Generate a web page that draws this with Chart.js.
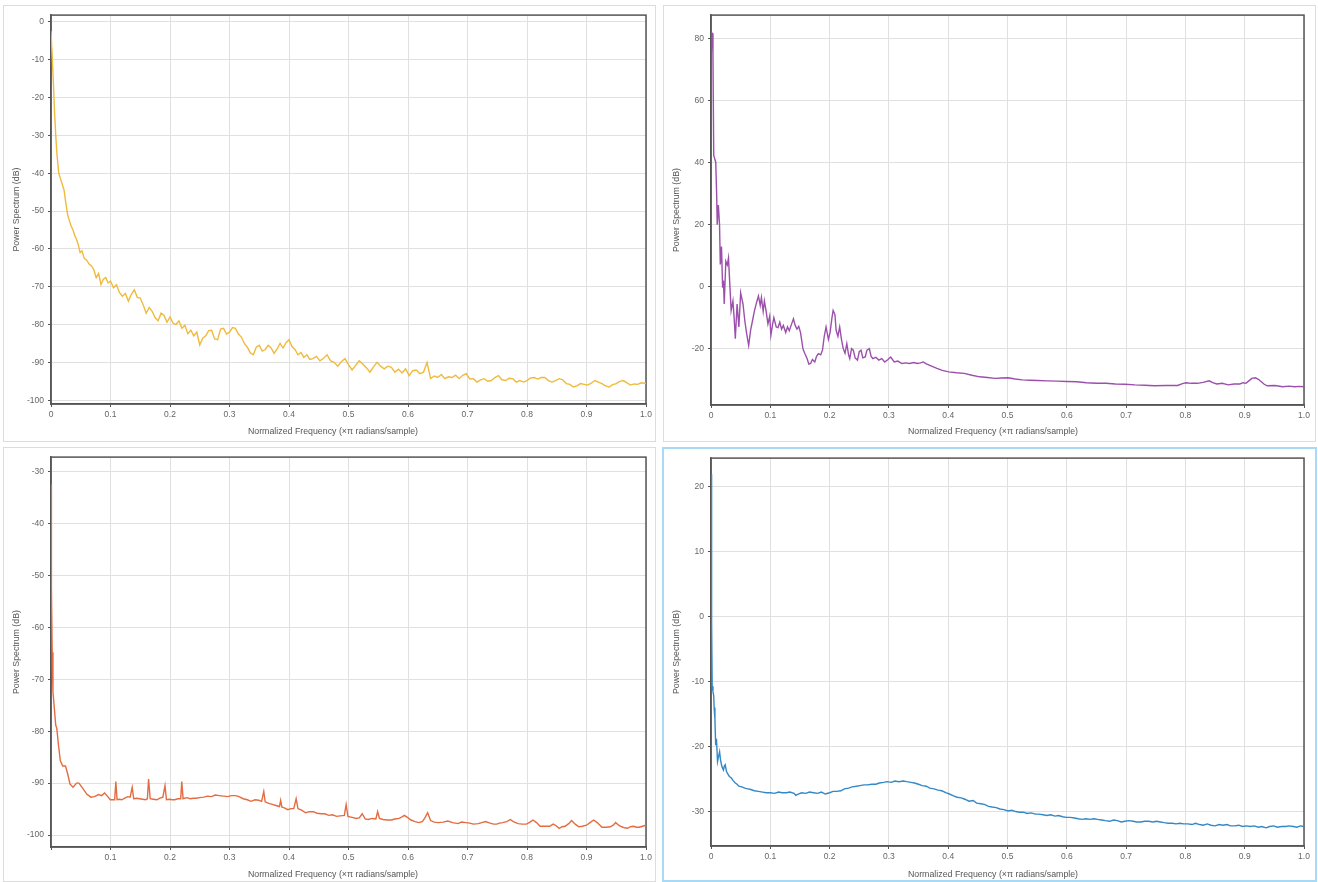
<!DOCTYPE html>
<html>
<head>
<meta charset="utf-8">
<script src="https://cdn.jsdelivr.net/npm/chart.js@4.4.0/dist/chart.umd.min.js"></script>
<style>
body{margin:0;background:#fff;width:1318px;height:882px;overflow:hidden;position:relative}
.panel{position:absolute;border:1px solid #dcdcdc;box-sizing:border-box;background:#fff}
.panel canvas{display:block}
#p4{border:2px solid #a9daf5}
</style>
</head>
<body>
<div class="panel" id="p1" style="left:3px;top:5px;width:653px;height:437px"><canvas id="c1" width="651" height="435"></canvas></div>
<div class="panel" id="p2" style="left:663px;top:5px;width:653px;height:437px"><canvas id="c2" width="651" height="435"></canvas></div>
<div class="panel" id="p3" style="left:3px;top:447px;width:653px;height:435px"><canvas id="c3" width="651" height="433"></canvas></div>
<div class="panel" id="p4" style="left:662px;top:447px;width:655px;height:435px"><canvas id="c4" width="651" height="431"></canvas></div>
<script>
// values (normalized frequency, dB)
let yellowFreq=[
0,0.002,0.004,0.006,0.008,0.010,0.013,0.016,0.019,0.022,
0.025,0.028,0.031,0.034,0.037,0.040,0.043,0.046,0.049,0.052,
0.056,0.060,0.064,0.068,0.072,0.076,0.080,0.084,0.088,0.092,
0.096,0.100,0.105,0.110,0.115,0.120,0.125,0.130,0.135,0.140,
0.145,0.150,0.155,0.160,0.165,0.170,0.175,0.180,0.185,0.190,
0.195,0.200,0.205,0.210,0.215,0.220,0.225,0.230,0.235,0.240,
0.245,0.250,0.255,0.260,0.265,0.270,0.275,0.280,0.285,0.290,
0.295,0.300,0.305,0.310,0.315,0.320,0.325,0.330,0.335,0.340,
0.345,0.350,0.355,0.360,0.365,0.370,0.375,0.380,0.385,0.390,
0.395,0.400,0.405,0.410,0.415,0.420,0.425,0.430,0.435,0.440,
0.446,0.452,0.458,0.464,0.470,0.476,0.482,0.488,0.494,0.500,
0.506,0.512,0.518,0.524,0.530,0.536,0.542,0.548,0.554,0.560,
0.566,0.572,0.578,0.584,0.590,0.596,0.602,0.608,0.614,0.620,
0.626,0.632,0.638,0.644,0.650,0.656,0.662,0.668,0.674,0.680,
0.686,0.692,0.698,0.704,0.710,0.716,0.722,0.728,0.734,0.740,
0.746,0.752,0.758,0.764,0.770,0.776,0.782,0.788,0.794,0.800,
0.806,0.812,0.818,0.824,0.830,0.836,0.842,0.848,0.854,0.860,
0.866,0.872,0.878,0.884,0.890,0.896,0.902,0.908,0.914,0.920,
0.926,0.932,0.938,0.944,0.950,0.956,0.962,0.968,0.974,0.980,
0.986,0.992,1.000]
let yellowDb=[
-2.5,-9,-16,-24,-30,-35,-40,-41.5,-43,-44.5,
-48,-51,-52.6,-54,-55,-56.5,-57.5,-59,-61,-60.5,
-62.5,-63,-64,-64.5,-65.5,-67.6,-66.5,-69.4,-68,-67.6,
-69,-68.5,-70.3,-69.5,-71.5,-72.5,-71.8,-73.8,-72,-70.8,
-72.8,-73,-74.8,-77,-75.5,-76.5,-78.2,-79,-77,-77.6,
-79.4,-78,-79.6,-80,-79,-81,-80.2,-82.4,-81.5,-83,
-82,-85.4,-83.6,-83,-81.6,-81.5,-83.8,-84,-81.2,-81,
-82.5,-82,-80.8,-81,-82.5,-83.3,-85,-86,-87.5,-88,
-86,-85.5,-87,-86.6,-85.5,-86.2,-87.6,-86.4,-85,-86.2,
-84.8,-84,-85.8,-86.6,-88,-87.4,-88.7,-88,-89.2,-89,
-88.4,-89.6,-88.9,-88,-89.6,-90,-91,-89.8,-89,-90.6,
-92,-90.8,-89.6,-90.4,-91.4,-92.6,-91.2,-90,-91,-91.7,
-91,-91.3,-92.6,-91.8,-92.8,-91.7,-93.5,-92.2,-92,-93,
-92.6,-90,-94.3,-93.6,-94,-93.2,-94.3,-93.8,-94,-93.4,
-94.3,-93.4,-93,-94.4,-94.3,-95.2,-94.6,-94.3,-95,-94.8,
-94,-93.5,-94.6,-94.8,-94.2,-94.3,-95.2,-94.8,-95.2,-94.8,
-94.1,-94,-94.4,-94,-94,-94.8,-95.2,-94.8,-94.3,-94.6,
-95.6,-95.8,-96.5,-96.2,-95.6,-95.8,-96,-95.5,-94.8,-95.2,
-95.6,-96.2,-96.5,-95.9,-95.6,-95,-94.8,-95.4,-96,-95.7,
-95.8,-95.4,-95.6]

let purpleFreq=[
0,0.002,0.0033,0.0046,0.006,0.008,0.0095,0.0105,0.0124,0.0144,
0.0157,0.0177,0.0196,0.021,0.0223,0.025,0.0275,0.0295,0.032,0.034,
0.037,0.039,0.041,0.044,0.047,0.050,0.054,0.057,0.060,0.0635,
0.0668,0.070,0.0733,0.077,0.080,0.083,0.085,0.088,0.090,0.093,
0.096,0.099,0.101,0.104,0.106,0.110,0.113,0.116,0.119,0.122,
0.126,0.129,0.132,0.136,0.139,0.142,0.145,0.148,0.151,0.155,
0.158,0.162,0.165,0.168,0.171,0.175,0.178,0.181,0.185,0.188,
0.191,0.194,0.198,0.201,0.204,0.206,0.209,0.211,0.214,0.217,
0.220,0.223,0.226,0.229,0.232,0.234,0.237,0.240,0.243,0.247,
0.250,0.253,0.256,0.260,0.263,0.267,0.270,0.273,0.278,0.283,
0.288,0.293,0.298,0.303,0.309,0.315,0.322,0.328,0.335,0.342,
0.348,0.353,0.358,0.363,0.368,0.375,0.381,0.390,0.401,0.414,
0.427,0.440,0.453,0.466,0.479,0.490,0.501,0.513,0.525,0.538,
0.551,0.567,0.584,0.600,0.617,0.633,0.650,0.666,0.682,0.698,
0.715,0.731,0.748,0.767,0.787,0.795,0.801,0.810,0.820,0.830,
0.840,0.846,0.853,0.862,0.872,0.882,0.892,0.897,0.902,0.907,
0.912,0.918,0.923,0.928,0.933,0.938,0.951,0.964,0.975,0.984,
0.992,1.0]
let purpleDb=[
82.3,81.8,75.4,42.4,41.5,40.2,30,20,26.4,20,
7.2,13,-0.3,2,-5.6,8.2,7,9.3,-0.3,-7.7,
-4.6,-10,-16.8,-5.6,-13,-2,-5.6,-11,-15,-19,
-14,-11,-7.7,-5,-3,-6,-3.5,-8,-4.6,-8,
-12,-9.5,-15.7,-12,-10,-13,-13.2,-11.5,-13.7,-12.5,
-14.8,-13,-14.2,-12,-10.4,-12.5,-13.7,-12.8,-14.8,-20,
-21.5,-23.2,-25,-24.8,-23.5,-24.3,-22.5,-21.6,-22,-20.5,
-16,-13,-17,-14.6,-10,-7.7,-9,-14.1,-16,-13,
-17,-20,-21.5,-18.4,-22,-23.2,-20,-20.5,-23,-23.7,
-21,-20.5,-23,-22.7,-20.5,-20,-22.5,-23.2,-22.8,-23.7,
-23.2,-24.3,-23.6,-22.7,-24.3,-24,-24.8,-24.6,-24.8,-24.5,
-24.8,-24.6,-24.3,-24.9,-25.3,-25.9,-26.4,-27,-27.5,-27.8,
-28,-28.6,-29.1,-29.3,-29.6,-29.5,-29.4,-29.8,-30.1,-30.2,
-30.3,-30.4,-30.5,-30.6,-30.7,-31,-31.2,-31.2,-31.4,-31.5,
-31.7,-31.8,-32,-31.9,-31.9,-31.3,-31,-31.2,-31.2,-30.9,
-30.4,-31,-31.4,-31.2,-31.7,-31.4,-31.4,-31,-31.2,-30.4,
-29.6,-29.4,-29.9,-30.7,-31.5,-32,-31.9,-32.3,-32.1,-32.3,
-32.2,-32.3]

let orangeFreq=[
0,0.0007,0.002,0.0033,0.0052,0.0079,0.0098,0.0125,0.0157,0.0197,
0.0243,0.0276,0.032,0.037,0.043,0.047,0.054,0.060,0.067,0.073,
0.080,0.085,0.090,0.094,0.0997,0.104,0.107,0.109,0.111,0.115,
0.119,0.124,0.129,0.133,0.1365,0.139,0.144,0.149,0.154,0.159,
0.162,0.164,0.1667,0.172,0.178,0.183,0.188,0.1916,0.194,0.199,
0.204,0.208,0.213,0.218,0.2198,0.222,0.228,0.234,0.239,0.244,
0.250,0.257,0.263,0.270,0.276,0.283,0.290,0.297,0.303,0.310,
0.316,0.323,0.330,0.336,0.343,0.349,0.354,0.3576,0.360,0.366,
0.372,0.378,0.384,0.386,0.388,0.393,0.398,0.403,0.408,0.412,
0.415,0.421,0.428,0.434,0.441,0.447,0.454,0.460,0.467,0.473,
0.480,0.486,0.493,0.496,0.499,0.506,0.513,0.518,0.523,0.528,
0.533,0.540,0.546,0.549,0.552,0.558,0.565,0.572,0.578,0.585,
0.590,0.594,0.599,0.605,0.612,0.618,0.624,0.628,0.633,0.638,
0.644,0.651,0.659,0.667,0.675,0.684,0.690,0.697,0.704,0.710,
0.718,0.724,0.730,0.738,0.744,0.749,0.754,0.759,0.766,0.772,
0.777,0.785,0.792,0.799,0.805,0.810,0.816,0.822,0.830,0.838,
0.844,0.849,0.854,0.859,0.864,0.870,0.875,0.881,0.887,0.893,
0.900,0.906,0.912,0.918,0.926,0.933,0.940,0.945,0.949,0.954,
0.959,0.964,0.969,0.974,0.979,0.984,0.989,0.994,1.0]
let orangeDb=[
-32.5,-52.2,-64.8,-72.4,-75,-78.8,-79.5,-82.6,-85.7,-86.7,
-86.7,-88,-90.2,-90.8,-90,-90,-91.1,-92.1,-92.7,-92.6,
-92.2,-92.4,-91.9,-92.4,-93.2,-93.2,-93.2,-89.7,-93.2,-93.1,
-93.2,-92.9,-92.6,-92.7,-90.8,-93,-92.9,-93,-93.1,-93.2,
-93,-89.2,-93,-93.1,-93.2,-92.9,-92.7,-90.5,-93.2,-93.1,
-93.2,-93.2,-93,-93,-89.7,-93,-92.8,-93,-92.9,-92.9,
-92.8,-92.7,-92.5,-92.6,-92.3,-92.4,-92.5,-92.6,-92.4,-92.4,
-92.6,-93,-93.2,-93.5,-93.2,-93.3,-93.5,-91.6,-93.6,-93.9,
-94.1,-94.3,-94.5,-93.3,-94.6,-94.8,-95.1,-94.9,-94.9,-93,
-94.9,-95.2,-95.7,-95.5,-95.5,-95.8,-95.9,-95.9,-96.2,-96.1,
-96.4,-96.3,-96.2,-94.1,-96.4,-96.6,-96.8,-96.7,-95.9,-96.9,
-97,-96.8,-96.9,-95.5,-96.8,-97,-97.1,-97.1,-96.9,-96.8,
-96.5,-96.2,-96.6,-97.1,-97.4,-97.6,-97.4,-96.8,-95.7,-97.2,
-97.5,-97.6,-97.5,-97.3,-97.6,-97.8,-97.5,-97.6,-97.7,-97.9,
-97.8,-97.6,-97.4,-97.7,-97.9,-97.9,-97.7,-97.6,-97.4,-97,
-97.4,-97.8,-97.9,-97.9,-97.5,-97.1,-97.6,-98.3,-98.3,-98.3,
-97.9,-98.2,-98.7,-98.4,-98.3,-97.8,-97.2,-97.9,-98.4,-98.3,
-98.1,-97.6,-97.1,-97.6,-98.5,-98.5,-98.4,-98.1,-97.6,-98.1,
-98.4,-98.6,-98.7,-98.4,-98.3,-98.5,-98.5,-98.3,-98.1]

let blueFreq=[
0,0.0007,0.0013,0.002,0.0033,0.0046,0.0053,0.0066,0.0079,0.0092,
0.011,0.0128,0.0145,0.016,0.0177,0.019,0.021,0.0225,0.024,0.026,
0.0276,0.029,0.031,0.034,0.037,0.041,0.044,0.047,0.052,0.057,
0.062,0.067,0.073,0.080,0.087,0.093,0.100,0.107,0.114,0.120,
0.127,0.133,0.140,0.143,0.147,0.153,0.160,0.166,0.173,0.180,
0.186,0.193,0.200,0.206,0.212,0.219,0.225,0.232,0.238,0.245,
0.251,0.258,0.264,0.271,0.278,0.284,0.291,0.297,0.304,0.310,
0.317,0.324,0.330,0.337,0.343,0.350,0.356,0.363,0.369,0.376,
0.383,0.389,0.396,0.402,0.409,0.415,0.422,0.428,0.435,0.442,
0.448,0.455,0.461,0.468,0.474,0.481,0.487,0.494,0.501,0.507,
0.514,0.520,0.527,0.533,0.540,0.547,0.553,0.560,0.566,0.573,
0.580,0.586,0.593,0.599,0.606,0.613,0.619,0.626,0.632,0.639,
0.646,0.652,0.659,0.665,0.672,0.679,0.685,0.692,0.698,0.705,
0.712,0.718,0.725,0.731,0.738,0.745,0.751,0.758,0.764,0.771,
0.778,0.784,0.791,0.797,0.804,0.811,0.817,0.824,0.830,0.837,
0.843,0.850,0.857,0.863,0.870,0.876,0.883,0.890,0.896,0.903,
0.909,0.916,0.923,0.929,0.936,0.942,0.949,0.955,0.962,0.969,
0.975,0.982,0.988,0.994,1.0]
let blueDb=[
21.9,10,-0.6,-10.7,-11.5,-12.2,-14,-15.7,-19.8,-18.8,
-22.3,-21.5,-20.8,-22,-22.8,-23.2,-23.6,-23,-22.8,-23.8,
-24.1,-24.3,-24.6,-24.8,-25.2,-25.6,-25.8,-26.1,-26.2,-26.4,
-26.5,-26.6,-26.8,-26.9,-27,-27.1,-27.1,-27.2,-27,-27.1,
-27.1,-27,-27.2,-27.5,-27.3,-27.1,-27.2,-27,-27.1,-27.2,
-27,-27.3,-27.1,-26.9,-26.9,-26.8,-26.5,-26.4,-26.2,-26.1,
-26,-25.9,-25.9,-25.8,-25.8,-25.6,-25.5,-25.4,-25.5,-25.3,
-25.4,-25.3,-25.4,-25.5,-25.6,-25.8,-26,-26.1,-26.4,-26.5,
-26.7,-26.8,-27.1,-27.3,-27.6,-27.8,-27.9,-28.1,-28.4,-28.3,
-28.7,-28.8,-28.9,-29.2,-29.3,-29.4,-29.6,-29.7,-29.9,-29.8,
-30,-30.1,-30.1,-30.3,-30.2,-30.4,-30.4,-30.5,-30.6,-30.5,
-30.7,-30.6,-30.8,-30.9,-30.9,-31,-31.1,-31.2,-31.1,-31.2,
-31.1,-31.2,-31.3,-31.4,-31.5,-31.3,-31.4,-31.6,-31.5,-31.4,
-31.5,-31.6,-31.6,-31.5,-31.5,-31.6,-31.5,-31.6,-31.7,-31.8,
-31.8,-31.9,-31.8,-31.9,-31.9,-32,-31.8,-32,-32.1,-31.9,
-32.1,-32.2,-32,-32.1,-32,-32.2,-32.2,-32.1,-32.3,-32.2,
-32.3,-32.2,-32.4,-32.3,-32.5,-32.3,-32.2,-32.4,-32.3,-32.3,
-32.2,-32.3,-32.4,-32.2,-32.3]

let xTitle='Normalized Frequency (\u00d7\u03c0 radians/sample)'
let yTitle='Power Spectrum (dB)'

let fontFam='"Liberation Sans", Arial, sans-serif'

// plot frame under the line, and the x title centred on the whole panel
let framePlugin={
    id:'frame',
    beforeDatasetsDraw(chart){
        let a=chart.chartArea
        let ctx=chart.ctx
        ctx.save()
        ctx.strokeStyle='#555'
        ctx.lineWidth=1.5
        ctx.strokeRect(a.left,a.top,a.right-a.left,a.bottom-a.top)
        ctx.restore()
    },
    afterDraw(chart,args,opts){
        let ctx=chart.ctx
        ctx.save()
        ctx.fillStyle='#555'
        ctx.font='8.8px '+fontFam
        ctx.textAlign='center'
        ctx.textBaseline='middle'
        ctx.fillText(xTitle,chart.width/2+3.5,opts.ty)
        ctx.restore()
    }
}

function makeChart(id,freq,db,color,yMin,yMax,yStep,geo,hideZero){
    let pts=freq.map((f,i)=>({x:f,y:db[i]}))
    new Chart(document.getElementById(id).getContext('2d'),{
        type:'line',
        data:{datasets:[{data:pts,borderColor:color,borderWidth:1.4,pointRadius:0,tension:0,fill:false}]},
        options:{
            responsive:false,
            animation:false,
            events:[],
            layout:{padding:{top:geo.top,right:geo.right,left:0,bottom:0}},
            plugins:{legend:{display:false},tooltip:{enabled:false},frame:{ty:geo.ty}},
            scales:{
                x:{
                    type:'linear',min:0,max:1,
                    afterFit:s=>{s.height=geo.xh},
                    border:{display:true,color:'#555',width:1.5},
                    grid:{color:'#e0e0e0',lineWidth:1,tickLength:3,tickColor:'#555'},
                    ticks:{stepSize:0.1,padding:3,color:'#666',font:{family:fontFam,size:8.5},maxRotation:0,
                        callback:v=>{
                            if(Math.abs(v)<1e-9) return hideZero?'':'0'
                            return v.toFixed(1)
                        }}
                },
                y:{
                    min:yMin,max:yMax,
                    afterFit:s=>{s.width=47},
                    border:{display:true,color:'#555',width:1.5},
                    grid:{color:'#e0e0e0',lineWidth:1,tickLength:3,tickColor:'#555'},
                    ticks:{stepSize:yStep,includeBounds:false,padding:4,color:'#666',font:{family:fontFam,size:8.5}},
                    title:{display:true,text:yTitle,color:'#555',font:{family:fontFam,size:8.8},padding:{top:7.5,bottom:0}}
                }
            }
        },
        plugins:[framePlugin]
    })
}

makeChart('c1',yellowFreq,yellowDb,'#F0BA3C',-101,1.8,10,{top:5,right:9,xh:37,ty:426},false)
makeChart('c2',purpleFreq,purpleDb,'#9C4FAD',-38.2,87.7,20,{top:5,right:11,xh:36,ty:426},false)
makeChart('c3',orangeFreq,orangeDb,'#E46C40',-102.3,-27.2,10,{top:4,right:9,xh:34,ty:427},true)
makeChart('c4',blueFreq,blueDb,'#3289C8',-35.3,24.4,10,{top:3,right:11,xh:34,ty:426},false)
</script>
</body>
</html>
